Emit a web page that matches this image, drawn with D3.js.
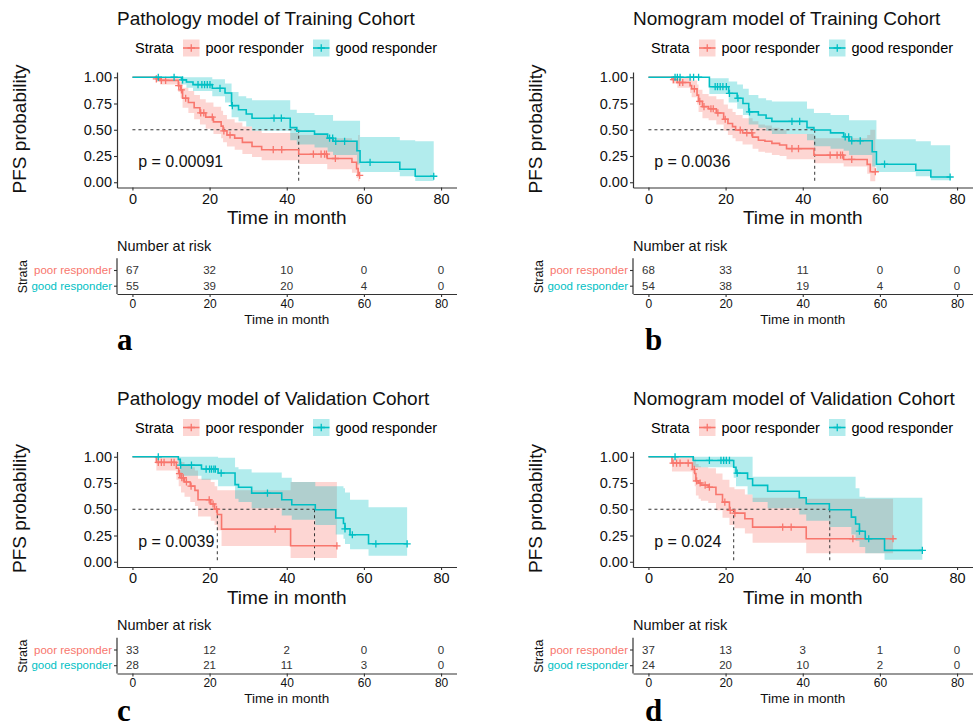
<!DOCTYPE html>
<html>
<head>
<meta charset="utf-8">
<script src="https://cdn.jsdelivr.net/npm/d3@7"></script>
<style>
  body { margin: 0; background: #fff; }
  text { font-family: "Liberation Sans", Arial, sans-serif; }
  text.letter { font-family: "Liberation Serif", "Times New Roman", serif; font-weight: bold; }
</style>
</head>
<body>
<svg id="chart" width="978" height="728"></svg>
<script>
const strata = ["poor responder", "good responder"];
const colors = ["#F8766D", "#00BFC4"];
const monthTicks = [0, 20, 40, 60, 80];
const probTicks = [0, 0.25, 0.5, 0.75, 1];

// each step: [time, survival, lower CI, upper CI]
// a: Pathology model, training
const titleA = "Pathology model of Training Cohort";
const pvalA = "p = 0.00091";
const poorStepsA = [[0,1,1,1],[6.2,0.985,0.955,1],[7.2,0.97,0.93,1],[11.9,0.92,0.86,0.99],[12.5,0.88,0.80,0.96],
  [13,0.80,0.71,0.90],[14.5,0.76,0.66,0.87],[16,0.71,0.60,0.83],[17.5,0.66,0.55,0.79],[19,0.62,0.51,0.76],
  [21,0.575,0.46,0.72],[23,0.535,0.42,0.68],[23.5,0.49,0.38,0.64],[24.5,0.45,0.34,0.60],[26.5,0.42,0.31,0.57],
  [28.5,0.38,0.27,0.53],[31,0.34,0.24,0.49],[33.5,0.31,0.21,0.47],[43.1,0.267,0.175,0.45],[50.5,0.226,0.124,0.42],
  [56.9,0.19,0.09,0.40],[58.1,0.13,0.04,0.40],[58.5,0.065,0.01,0.45]];
const poorCensA = [6.2,7.5,8.6,12,12.7,13.8,17.7,18.5,20.7,23.7,25.3,36.5,38.7,46.9,48.9,49.8,50.3,52.6,58.9];
const goodStepsA = [[0,1,1,1],[12.7,0.975,0.93,1],[14,0.955,0.90,1],[15.7,0.93,0.87,1],[20.7,0.895,0.82,0.98],
  [24,0.85,0.76,0.94],[25.7,0.73,0.62,0.86],[27.5,0.69,0.58,0.82],[29.5,0.65,0.53,0.80],[31,0.61,0.49,0.78],
  [40.9,0.52,0.40,0.69],[42.6,0.487,0.36,0.66],[47.2,0.458,0.33,0.64],[50.6,0.42,0.29,0.64],[52,0.39,0.26,0.585],
  [58.2,0.30,0.17,0.585],[59,0.19,0.098,0.43],[69.3,0.124,0.057,0.40],[73.3,0.057,0.012,0.39]];
const goodCensA = [6.7,10.8,13,17,18,18.7,19.4,20.1,22.7,25.9,36.7,38.6,51.1,51.9,52.7,55,61.6,78.1];
const riskA = [[67,32,10,0,0],[55,39,20,4,0]];
const mediansA = [43.1];

// b: Nomogram model, training
const titleB = "Nomogram model of Training Cohort";
const pvalB = "p = 0.0036";
const poorStepsB = [[0,1,1,1],[6.1,0.978,0.94,1],[7.5,0.95,0.90,1],[10.8,0.92,0.85,0.99],[11.2,0.89,0.81,0.97],
  [12.6,0.83,0.74,0.93],[13,0.77,0.67,0.88],[14,0.72,0.61,0.84],[15.6,0.70,0.59,0.82],[17.6,0.66,0.55,0.79],
  [19.5,0.60,0.49,0.74],[20.6,0.56,0.45,0.70],[21.8,0.53,0.42,0.67],[22.6,0.497,0.39,0.64],[24.4,0.47,0.36,0.61],
  [27,0.43,0.32,0.58],[28.5,0.40,0.29,0.55],[30.2,0.39,0.28,0.54],[32,0.37,0.26,0.52],[34,0.355,0.25,0.50],
  [35.8,0.32,0.22,0.46],[42.9,0.258,0.18,0.42],[50.6,0.217,0.15,0.42],[56.7,0.17,0.08,0.45],[57.5,0.1,0.01,0.5]];
const poorCensB = [6.5,8.1,8.9,11.9,13.3,14.4,16.2,16.8,18,19.9,23.8,25.5,26.8,37.2,38.9,47.1,48.9,49.8,50.3,52.7,58.8];
const goodStepsB = [[0,1,1,1],[15.8,0.91,0.84,0.99],[20.8,0.847,0.76,0.96],[23,0.80,0.70,0.93],[24.5,0.75,0.64,0.89],
  [26,0.67,0.55,0.83],[28.5,0.64,0.52,0.80],[30.5,0.61,0.49,0.78],[32,0.58,0.46,0.77],[41.1,0.52,0.40,0.70],
  [42.9,0.497,0.344,0.66],[47.2,0.47,0.32,0.64],[50.6,0.433,0.30,0.64],[52,0.395,0.26,0.59],[58,0.29,0.15,0.59],
  [59.1,0.172,0.098,0.41],[69.3,0.115,0.057,0.39],[73.2,0.05,0.02,0.353]];
const goodCensB = [6.9,7.5,8.2,10.8,11.7,13,17.3,17.9,18.6,19.3,20.2,21,23.2,26.2,37.2,39.2,51,51.9,52.7,54.9,61.2,78.2];
const riskB = [[68,33,11,0,0],[54,38,19,4,0]];
const mediansB = [43.1];

// c: Pathology model, validation
const titleC = "Pathology model of Validation Cohort";
const pvalC = "p = 0.0039";
const poorStepsC = [[0,1,1,1],[6.2,0.946,0.87,1],[11.4,0.89,0.78,1],[12,0.84,0.72,0.98],[12.6,0.80,0.66,0.95],
  [13.5,0.76,0.62,0.93],[15,0.72,0.57,0.90],[16.2,0.68,0.53,0.87],[17,0.59,0.43,0.79],[20.3,0.55,0.39,0.76],
  [21.3,0.50,0.35,0.72],[22,0.45,0.30,0.68],[23.1,0.311,0.15,0.68],[41,0.152,0.035,0.76]];
const poorCensC = [6.7,7.5,8.2,10.1,10.8,12.2,12.8,13.2,14,15.2,19.9,20.9,21.8,37,53];
const goodStepsC = [[0,1,1,1],[11.9,0.975,0.93,1],[12.4,0.92,0.82,1],[17.9,0.883,0.78,1],[22.2,0.845,0.72,0.99],
  [26.6,0.735,0.60,0.90],[27.5,0.71,0.57,0.88],[30.9,0.654,0.51,0.85],[38.7,0.59,0.44,0.80],[41.3,0.543,0.40,0.76],
  [47.4,0.495,0.35,0.72],[52.7,0.416,0.26,0.72],[54.7,0.365,0.22,0.70],[55.1,0.314,0.17,0.66],[56.4,0.257,0.12,0.59],
  [61.2,0.171,0.057,0.52]];
const goodCensC = [6.7,12.5,15.3,19.1,20,20.5,21.1,21.5,23,35,55.1,57,63.1,71.2];
const riskC = [[33,12,2,0,0],[28,21,11,3,0]];
const mediansC = [22, 47.2];

// d: Nomogram model, validation
const titleD = "Nomogram model of Validation Cohort";
const pvalD = "p = 0.024";
const poorStepsD = [[0,1,1,1],[6.1,0.94,0.86,1],[11.4,0.88,0.76,1],[12,0.84,0.72,0.98],[12.3,0.77,0.63,0.93],
  [13,0.75,0.60,0.91],[13.6,0.73,0.58,0.90],[15.5,0.71,0.56,0.89],[17.5,0.64,0.49,0.84],[19.2,0.568,0.42,0.78],
  [21,0.49,0.35,0.71],[22.3,0.463,0.32,0.69],[25,0.41,0.27,0.64],[27,0.33,0.18,0.61],[40.9,0.219,0.08,0.60]];
const poorCensD = [6.4,7.3,8.2,10.3,11.9,12.5,13.4,14.7,15.8,19.8,21.2,22.4,34.8,37,53,63.4];
const goodStepsD = [[0,1,1,1],[11.6,0.965,0.90,1],[22.1,0.90,0.80,1],[22.7,0.844,0.72,1],[25.7,0.79,0.64,1],
  [27,0.727,0.57,0.81],[30.9,0.672,0.51,0.81],[39.1,0.61,0.45,0.81],[40.9,0.552,0.39,0.81],[46.9,0.495,0.33,0.81],
  [52.6,0.425,0.26,0.81],[53.7,0.36,0.20,0.70],[54.7,0.291,0.14,0.62],[56.2,0.219,0.08,0.61],[61.2,0.108,0.02,0.61]];
const goodCensD = [6.9,15.8,18.8,19.5,20.2,21,23,54.7,57.1,71];
const riskD = [[37,13,3,1,0],[24,20,10,2,0]];
const mediansD = [22.1, 47];

const panels = [
  { ox: 0, oy: 0, title: titleA, pval: pvalA, curves: [[poorStepsA, poorCensA], [goodStepsA, goodCensA]], risk: riskA, medians: mediansA, letter: "a", lx: 117, ly: 350 },
  { ox: 516, oy: 0, title: titleB, pval: pvalB, curves: [[poorStepsB, poorCensB], [goodStepsB, goodCensB]], risk: riskB, medians: mediansB, letter: "b", lx: 645, ly: 350 },
  { ox: 0, oy: 379.5, title: titleC, pval: pvalC, curves: [[poorStepsC, poorCensC], [goodStepsC, goodCensC]], risk: riskC, medians: mediansC, letter: "c", lx: 117, ly: 721 },
  { ox: 516, oy: 379.5, title: titleD, pval: pvalD, curves: [[poorStepsD, poorCensD], [goodStepsD, goodCensD]], risk: riskD, medians: mediansD, letter: "d", lx: 645, ly: 721 }
];

const svg = d3.select("#chart");
const axisColor = "#333";

function survAt(steps, t) {
  let s = steps[0];
  for (const st of steps) if (st[0] <= t) s = st;
  return s[1];
}

function styleAxis(sel, fontSize) {
  sel.select(".domain").attr("stroke", axisColor).attr("stroke-width", 1.2);
  sel.selectAll(".tick line").attr("stroke", axisColor).attr("stroke-width", 1.1);
  sel.selectAll(".tick text").attr("font-size", fontSize).attr("fill", "#111");
}

function drawPanel(p) {
  const g = svg.append("g");
  const x = d3.scaleLinear().domain([-4, 84]).range([p.ox + 117, p.ox + 456.5]);
  const y = d3.scaleLinear().domain([-0.05, 1.05]).range([p.oy + 187.5, p.oy + 72]);

  // title
  g.append("text").attr("x", p.ox + 117).attr("y", p.oy + 25)
    .attr("font-size", 19).attr("fill", "#111").text(p.title);

  // legend
  const lg = g.append("g");
  lg.append("text").attr("x", p.ox + 135).attr("y", p.oy + 53).attr("font-size", 14.5).text("Strata");
  const keyX = [183, 313], labX = [205.5, 335.5];
  strata.forEach((s, i) => {
    const kx = p.ox + keyX[i], ky = p.oy + 39.5;
    lg.append("rect").attr("x", kx).attr("y", ky).attr("width", 16.5).attr("height", 17)
      .attr("fill", colors[i]).attr("fill-opacity", 0.3);
    lg.append("line").attr("x1", kx).attr("x2", kx + 16.5).attr("y1", ky + 8.5).attr("y2", ky + 8.5)
      .attr("stroke", colors[i]).attr("stroke-width", 1.6);
    lg.append("path").attr("d", `M${kx + 4.5},${ky + 8.5}H${kx + 12}M${kx + 8.25},${ky + 4.8}V${ky + 12.2}`)
      .attr("stroke", colors[i]).attr("stroke-width", 1.3);
    lg.append("text").attr("x", p.ox + labX[i]).attr("y", p.oy + 53).attr("font-size", 14.5).text(s);
  });

  // confidence bands
  p.curves.forEach(([steps, cens], i) => {
    const end = Math.max(d3.max(cens), steps[steps.length - 1][0]);
    const last = steps[steps.length - 1];
    const pts = steps.concat([[end, last[1], last[2], last[3]]]);
    g.append("path").datum(pts)
      .attr("d", d3.area().curve(d3.curveStepAfter).x(d => x(d[0])).y0(d => y(d[2])).y1(d => y(d[3])))
      .attr("fill", colors[i]).attr("fill-opacity", 0.3);
  });

  // median lines
  const medMax = d3.max(p.medians);
  g.append("line").attr("x1", x(0)).attr("x2", x(medMax)).attr("y1", y(0.5)).attr("y2", y(0.5))
    .attr("stroke", "#333").attr("stroke-width", 1).attr("stroke-dasharray", "3,3");
  p.medians.forEach(m => {
    g.append("line").attr("x1", x(m)).attr("x2", x(m)).attr("y1", y(0.5)).attr("y2", y(0))
      .attr("stroke", "#333").attr("stroke-width", 1).attr("stroke-dasharray", "3,3");
  });

  // survival curves and censor marks
  p.curves.forEach(([steps, cens], i) => {
    const end = Math.max(d3.max(cens), steps[steps.length - 1][0]);
    const last = steps[steps.length - 1];
    const pts = steps.concat([[end, last[1], last[2], last[3]]]);
    g.append("path").datum(pts)
      .attr("d", d3.line().curve(d3.curveStepAfter).x(d => x(d[0])).y(d => y(d[1])))
      .attr("fill", "none").attr("stroke", colors[i]).attr("stroke-width", 1.6);
    g.selectAll(null).data(cens).enter().append("path")
      .attr("transform", t => `translate(${x(t)},${y(survAt(steps, t))})`)
      .attr("d", "M-3.6,0H3.6M0,-3.6V3.6")
      .attr("stroke", colors[i]).attr("stroke-width", 1.3);
  });

  // p value
  g.append("text").attr("x", x(1.5)).attr("y", y(0.2)).attr("dy", "0.36em")
    .attr("font-size", 16).attr("fill", "#111").text(p.pval);

  // axes
  const xa = g.append("g").attr("transform", `translate(0,${p.oy + 187.5})`)
    .call(d3.axisBottom(x).tickValues(monthTicks).tickSize(3).tickSizeOuter(0).tickPadding(3));
  styleAxis(xa, 14.5);
  const ya = g.append("g").attr("transform", `translate(${p.ox + 117},0)`)
    .call(d3.axisLeft(y).tickValues(probTicks).tickFormat(d3.format(".2f")).tickSize(3).tickSizeOuter(0).tickPadding(2));
  styleAxis(ya, 14.5);

  g.append("text").attr("x", p.ox + 286.8).attr("y", p.oy + 224).attr("text-anchor", "middle")
    .attr("font-size", 19).attr("fill", "#111").text("Time in month");
  g.append("text").attr("transform", `translate(${p.ox + 26},${p.oy + 129}) rotate(-90)`)
    .attr("text-anchor", "middle").attr("font-size", 19).attr("fill", "#111").text("PFS probability");

  // risk table
  const rows = d3.scalePoint().domain(strata).range([p.oy + 270, p.oy + 285.7]);
  g.append("text").attr("x", p.ox + 117).attr("y", p.oy + 250.5).attr("font-size", 14.5)
    .attr("fill", "#111").text("Number at risk");
  p.risk.forEach((vals, i) => {
    g.selectAll(null).data(vals).enter().append("text")
      .attr("x", (v, j) => x(monthTicks[j])).attr("y", rows(strata[i])).attr("dy", "0.36em")
      .attr("text-anchor", "middle").attr("font-size", 11.5).attr("fill", "#333").text(v => v);
  });
  const ra = g.append("g").attr("transform", `translate(${p.ox + 117},0)`)
    .call(d3.axisLeft(rows).tickSize(3).tickSizeOuter(0).tickPadding(2));
  ra.select(".domain").remove();
  ra.selectAll(".tick line").attr("stroke", axisColor).attr("stroke-width", 1.1);
  ra.selectAll(".tick text").attr("font-size", 11.5).attr("fill", (d, i) => colors[i]);
  g.append("line").attr("x1", p.ox + 117).attr("x2", p.ox + 117)
    .attr("y1", p.oy + 258.3).attr("y2", p.oy + 294)
    .attr("stroke", axisColor).attr("stroke-width", 1.2);
  const rx = g.append("g").attr("transform", `translate(0,${p.oy + 294})`)
    .call(d3.axisBottom(x).tickValues(monthTicks).tickSize(3).tickSizeOuter(0).tickPadding(2));
  styleAxis(rx, 12);
  g.append("text").attr("x", p.ox + 286.8).attr("y", p.oy + 323.5).attr("text-anchor", "middle")
    .attr("font-size", 13.5).attr("fill", "#111").text("Time in month");
  g.append("text").attr("transform", `translate(${p.ox + 26.5},${p.oy + 276.7}) rotate(-90)`)
    .attr("text-anchor", "middle").attr("font-size", 12.5).attr("fill", "#111").text("Strata");

  // panel letter
  g.append("text").attr("class", "letter").attr("x", p.lx).attr("y", p.ly)
    .attr("font-size", 31).attr("fill", "#000").text(p.letter);
}

panels.forEach(drawPanel);
</script>
</body>
</html>
